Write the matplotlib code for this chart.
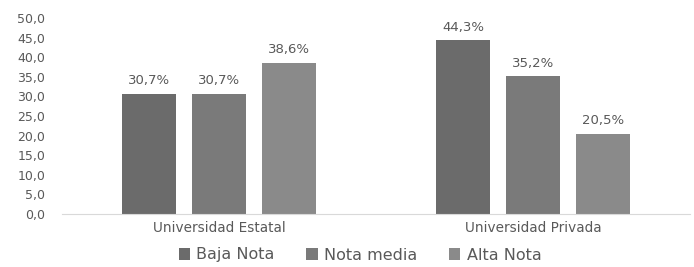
import matplotlib
matplotlib.use('Agg')
import matplotlib.pyplot as plt
import numpy as np

categories = ["Universidad Estatal", "Universidad Privada"]
series = ["Baja Nota", "Nota media", "Alta Nota"]
baja = [30.7, 44.3]
media = [30.7, 35.2]
alta = [38.6, 20.5]
yticks = [0, 5, 10, 15, 20, 25, 30, 35, 40, 45, 50]

colors = ["#6b6b6b", "#7a7a7a", "#8a8a8a"]
txt = "#595959"

plt.rcParams['font.family'] = ['DejaVu Sans']

fig = plt.figure(figsize=(6.94, 2.67), dpi=100)
ax = fig.add_axes([62/694, 53/267, 628/694, 196/267])

x = np.arange(len(categories))
w = 0.175
step = 0.223
for i, (name, vals) in enumerate(zip(series, [baja, media, alta])):
    pos = x + (i - 1) * step
    bars = ax.bar(pos, vals, w, color=colors[i], label=name)
    for b, v in zip(bars, vals):
        ax.text(b.get_x() + b.get_width()/2, v + 1.6, f"{v:.1f}%".replace(".", ","),
                ha='center', va='bottom', fontsize=9.5, color=txt)

ax.set_xlim(-0.5, 1.5)
ax.set_ylim(0, 50)
ax.set_yticks(yticks)
ax.set_yticklabels([f"{t:.1f}".replace(".", ",") for t in yticks])
ax.set_xticks(x)
ax.set_xticklabels(categories)
ax.tick_params(axis='y', length=0, labelsize=9, colors=txt, pad=12)
ax.tick_params(axis='x', length=0, labelsize=9.8, colors=txt, pad=5)
for s in ['top', 'right', 'left']:
    ax.spines[s].set_visible(False)
ax.spines['bottom'].set_color('#d9d9d9')

fig.legend(loc='center', bbox_to_anchor=(360/694, 1 - 255/267), ncol=3, frameon=False,
           fontsize=11.5, labelcolor=txt, handlelength=0.7, handleheight=0.7,
           handletextpad=0.4, columnspacing=2.0)

fig.savefig("out.png", dpi=100)
